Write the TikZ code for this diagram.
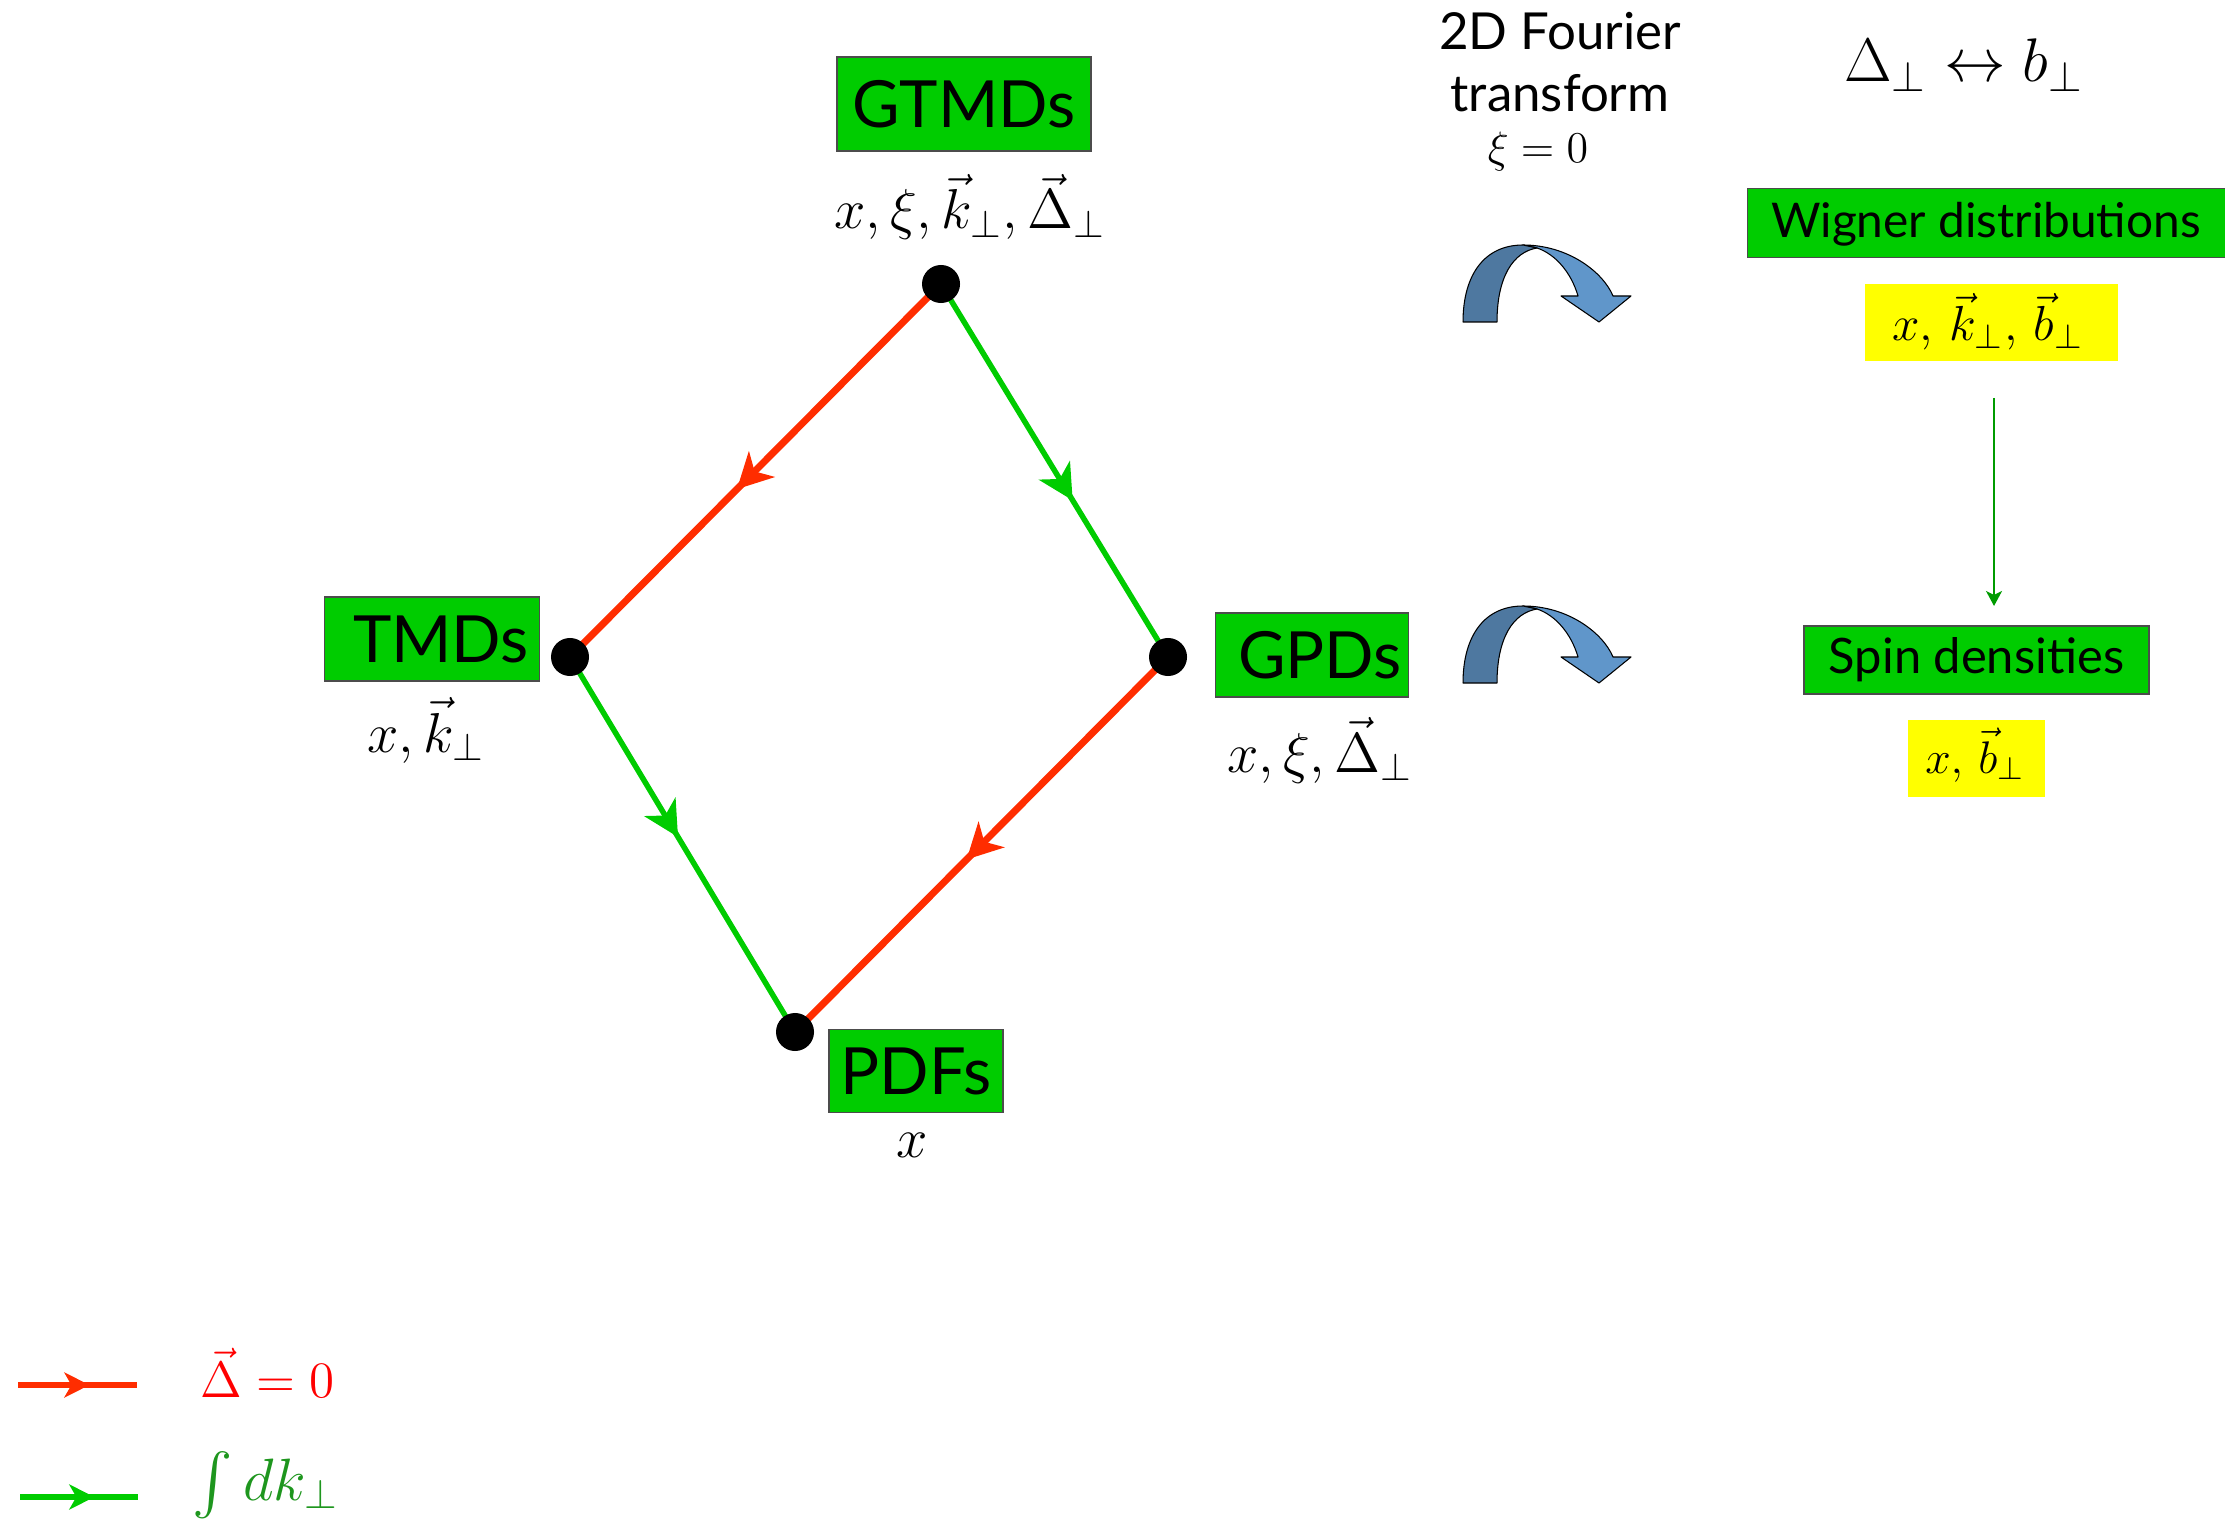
\RequirePackage{fix-cm}
\documentclass[tikz,border=0pt]{standalone}
\usepackage{exscale}
\usepackage[no-math]{fontspec}
\setmainfont{Lato}
\usetikzlibrary{arrows.meta,decorations.markings}
\definecolor{boxgreen}{RGB}{0,204,0}
\definecolor{linered}{RGB}{255,45,0}
\definecolor{linegreen}{RGB}{0,204,0}
\definecolor{darkgreen}{RGB}{0,155,0}
\definecolor{legendgreen}{RGB}{30,150,30}
\definecolor{arrowdark}{RGB}{78,120,160}
\definecolor{arrowlight}{RGB}{96,150,202}
\definecolor{boxyellow}{RGB}{255,255,0}
\definecolor{legendred}{RGB}{255,0,0}
\tikzset{
  greenbox/.style={draw=black!70, line width=0.4pt, fill=boxgreen, inner sep=0pt},
  yellowbox/.style={fill=boxyellow, inner sep=0pt},
  dotnode/.style={circle, fill=black, minimum size=0.38cm, inner sep=0pt},
  redpath/.style={color=linered, line width=0.07cm},
  greenpath/.style={color=linegreen, line width=0.055cm},
  midtip/.style={postaction={decorate}, decoration={markings,
      mark=at position #1 with {\arrow{Stealth[length=0.35cm,width=0.36cm,inset=0.1cm]}}}},
  legtip/.style={postaction={decorate}, decoration={markings,
      mark=at position #1 with {\arrow{Stealth[length=0.25cm,width=0.25cm,inset=0.07cm]}}}},
  lbl/.style={inner sep=0pt},
  bigfont/.style={font=\fontsize{18.5}{22}\selectfont},
  mathfont/.style={font=\fontsize{16}{19}\selectfont},
  ribbon/.style={draw=black, line width=0.3pt, line join=round},
}
\begin{document}
\begin{tikzpicture}[x=0.01cm,y=-0.01cm]
\useasboundingbox (0,0) rectangle (2225,1528);

% diamond corner points
\coordinate (g) at (941,284);
\coordinate (t) at (570,657);
\coordinate (p) at (1168,657);
\coordinate (f) at (795,1032);

\draw[redpath, midtip=0.55] (g) -- (t);
\draw[greenpath, midtip=0.58] (g) -- (p);
\draw[greenpath, midtip=0.48] (t) -- (f);
\draw[redpath, midtip=0.54] (p) -- (f);

\node[dotnode] (gd) at (g) {};
\node[dotnode] (td) at (t) {};
\node[dotnode] (pd) at (p) {};
\node[dotnode] (fd) at (f) {};

% boxes and labels of the diamond
\node[greenbox, bigfont, minimum width=2.54cm, minimum height=0.94cm] (gtmd) at (964,104) {GTMDs};
\node[lbl, mathfont, anchor=base] (gtmdvar) at (970,229) {$x,\xi,\vec k_\perp,\vec\Delta_\perp$};

\node[greenbox, bigfont, minimum width=2.15cm, minimum height=0.84cm] (tmd) at (432,639) {\hspace*{0.18cm}TMDs};
\node[lbl, mathfont, anchor=base] (tmdvar) at (426,752) {$x,\vec k_\perp$};

\node[greenbox, bigfont, minimum width=1.93cm, minimum height=0.84cm] (gpd) at (1312,655) {\hspace*{0.16cm}GPDs};
\node[lbl, mathfont, anchor=base] (gpdvar) at (1320,772) {$x,\xi,\vec\Delta_\perp$};

\node[greenbox, bigfont, minimum width=1.74cm, minimum height=0.83cm] (pdf) at (916,1071) {PDFs};
\node[lbl, mathfont, anchor=base] (pdfvar) at (912,1157) {$x$};

% Fourier transform texts
\node[lbl, font=\fontsize{14.5}{17}\selectfont, anchor=base] (four1) at (1560,50) {2D Fourier};
\node[lbl, font=\fontsize{14.5}{17}\selectfont, anchor=base] (four2) at (1560,112) {transform};
\node[lbl, font=\fontsize{12.5}{15}\selectfont, anchor=base] (xi) at (1538,163) {$\xi=0$};
\node[lbl, font=\fontsize{17.5}{21}\selectfont, anchor=base] (db) at (1964,82) {$\Delta_\perp\leftrightarrow b_\perp$};

% curved blue arrows
\foreach \oy in {322,683}{
  \begin{scope}[shift={(1463,\oy)}]
    \filldraw[ribbon, fill=arrowlight] (60,-77) .. controls (105,-77) and (140,-50) .. (150,-26)
      -- (168,-26) -- (136,0) -- (98,-26) -- (115,-26)
      .. controls (108,-50) and (92,-68) .. (74,-74) -- cycle;
    \filldraw[ribbon, fill=arrowdark] (0,0) .. controls (0,-48) and (22,-77) .. (60,-77)
      -- (74,-74) .. controls (50,-70) and (34,-45) .. (34,0) -- cycle;
  \end{scope}
}

% Wigner distributions
\node[greenbox, minimum width=4.78cm, minimum height=0.69cm, anchor=north west] (wbox) at (1747,188) {};
\node[lbl, font=\fontsize{13.6}{16}\selectfont, anchor=base] (wtxt) at (1986,238) {Wigner distributions};
\node[yellowbox, minimum width=2.53cm, minimum height=0.77cm] (wvar) at (1991.5,322.5) {};
\node[lbl, font=\fontsize{14}{17}\selectfont, anchor=base] (wvartxt) at (1988,341) {$x,\,\vec k_\perp,\,\vec b_\perp$};

% arrow down
\coordinate (dstart) at (1994,398);
\coordinate (dend) at (1994,606);
\draw[darkgreen, line width=0.02cm, -{Stealth[length=0.15cm,width=0.16cm,inset=0.04cm]}] (dstart) -- (dend);

% Spin densities
\node[greenbox, font=\fontsize{13.9}{16}\selectfont, minimum width=3.45cm, minimum height=0.68cm] (spin) at (1976.5,660) {Spin densities};
\node[yellowbox, minimum width=1.37cm, minimum height=0.77cm] (svar) at (1976.5,758.5) {};
\node[lbl, font=\fontsize{13}{16}\selectfont, anchor=base] (svartxt) at (1975,773) {$x,\,\vec b_\perp$};

% legend
\coordinate (lr1) at (18,1385);
\coordinate (lr2) at (137,1385);
\coordinate (lg1) at (20,1497);
\coordinate (lg2) at (138,1497);
\draw[color=linered, line width=0.067cm, legtip=0.6] (lr1) -- (lr2);
\draw[color=linegreen, line width=0.067cm, legtip=0.63] (lg1) -- (lg2);
\node[lbl, anchor=base west, text=legendred, font=\fontsize{14.5}{17}\selectfont] (legred) at (200,1397) {$\vec\Delta = 0$};
\node[lbl, anchor=base west, text=legendgreen, font=\fontsize{17}{20}\selectfont] (leggreen) at (192,1500) {$\int dk_\perp$};
\end{tikzpicture}
\end{document}
